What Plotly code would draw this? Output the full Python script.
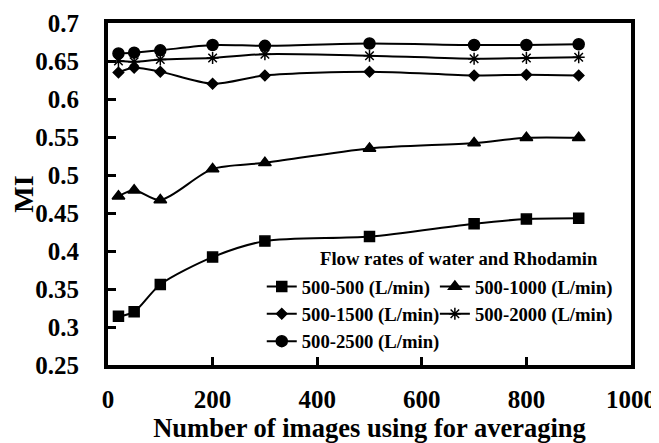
import plotly.graph_objects as go

x_vals = [20, 50, 100, 200, 300, 500, 700, 800, 900]
s500 = [0.314, 0.320, 0.356, 0.392, 0.413, 0.419, 0.436, 0.442, 0.443]
s1000 = [0.472, 0.480, 0.467, 0.508, 0.516, 0.535, 0.542, 0.549, 0.549]
s1500 = [0.635, 0.641, 0.636, 0.620, 0.631, 0.636, 0.631, 0.632, 0.631]
s2000 = [0.650, 0.649, 0.652, 0.654, 0.659, 0.657, 0.653, 0.654, 0.655]
s2500 = [0.660, 0.661, 0.664, 0.671, 0.670, 0.673, 0.671, 0.671, 0.672]
names = ["500-500 (L/min)", "500-1000 (L/min)", "500-1500 (L/min)",
         "500-2000 (L/min)", "500-2500 (L/min)"]
legend_title = "Flow rates of water and Rhodamin"
y_ticks = [0.25, 0.3, 0.35, 0.4, 0.45, 0.5, 0.55, 0.6, 0.65, 0.7]
y_tick_text = ["0.25", "0.3", "0.35", "0.4", "0.45", "0.5", "0.55", "0.6", "0.65", "0.7"]
x_ticks = [0, 200, 400, 600, 800, 1000]

series = [s500, s1000, s1500, s2000, s2500]
symbols = ["square", "triangle-up", "diamond", "asterisk-open", "circle"]
sizes = [10, 11, 8, 10, 11]
legend_ids = ["legend", "legend2", "legend", "legend2", "legend"]

font_family = "Liberation Serif"

fig = go.Figure()
for ys, nm, sym, sz, lg in zip(series, names, symbols, sizes, legend_ids):
    fig.add_trace(go.Scatter(
        x=x_vals, y=ys, name=nm, mode="lines+markers", legend=lg,
        line=dict(color="black", width=2, shape="spline", smoothing=0.8),
        marker=dict(symbol=sym, size=sz, color="black",
                    line=dict(color="black", width=1.5)),
    ))

legend_font = dict(family=font_family, size=18.7, color="black", weight="bold")
# page body has an 8px default margin, so the figure is 8px smaller each way
fig.update_layout(
    width=651, height=435,
    margin=dict(l=100, r=28, t=15, b=78),
    paper_bgcolor="white", plot_bgcolor="white",
    font=dict(family=font_family, color="black"),
    showlegend=True,
    legend=dict(
        x=0.294, y=0.284, xanchor="left", yanchor="top", orientation="v",
        itemwidth=30, bgcolor="rgba(0,0,0,0)", font=legend_font, borderwidth=0,
    ),
    legend2=dict(
        x=0.625, y=0.284, xanchor="left", yanchor="top", orientation="v",
        itemwidth=30, bgcolor="rgba(0,0,0,0)", font=legend_font, borderwidth=0,
    ),
    annotations=[dict(
        text="<b>" + legend_title + "</b>", xref="paper", yref="paper",
        x=0.671, y=0.31, xanchor="center", yanchor="middle", showarrow=False,
        font=dict(family=font_family, size=18.7, color="black"),
    )],
    xaxis=dict(
        range=[0, 1000], tickvals=x_ticks, ticks="inside", ticklen=8, tickwidth=3,
        tickcolor="black", showline=True, linewidth=4, linecolor="black", mirror=True,
        showgrid=False, zeroline=False, automargin=False, ticklabelstandoff=9,
        tickfont=dict(family=font_family, size=25, color="black", weight="bold"),
        title=dict(text="<b>Number of images using for averaging</b>", standoff=5,
                   font=dict(family=font_family, size=26.5, color="black")),
    ),
    yaxis=dict(
        range=[0.25, 0.7], tickvals=y_ticks, ticktext=y_tick_text, ticks="inside",
        ticklen=8, tickwidth=3, tickcolor="black", showline=True, linewidth=4,
        linecolor="black", mirror=True, showgrid=False, zeroline=False,
        automargin=False, ticklabelstandoff=20,
        tickfont=dict(family=font_family, size=25, color="black", weight="bold"),
        title=dict(text="<b>MI</b>", standoff=8,
                   font=dict(family=font_family, size=28, color="black")),
    ),
)

fig.write_html("out.html")
